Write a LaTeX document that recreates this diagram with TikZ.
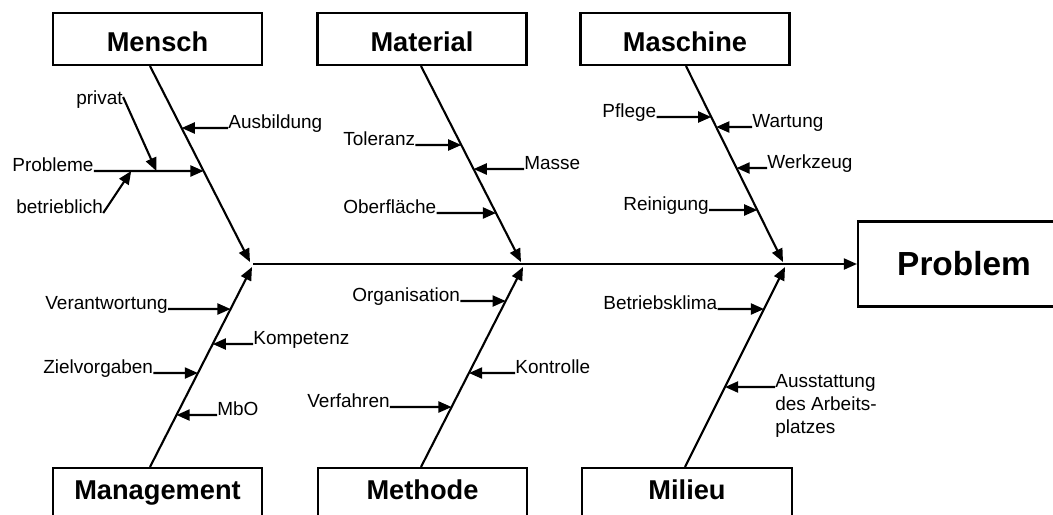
\documentclass[tikz,border=0pt]{standalone}
\usepackage{fontspec}
\setmainfont{Liberation Sans}
\usetikzlibrary{arrows.meta,calc}
\begin{document}
\begin{tikzpicture}[x=0.02cm,y=-0.02cm,
  box/.style={draw,line width=1.2pt,minimum width=4.18cm,minimum height=1.04cm,inner sep=0pt,
    font=\fontsize{15.5}{18}\selectfont\bfseries},
  topbox/.style={box,text height=14.5pt,text depth=0pt},
  botbox/.style={box,text height=11.5pt,text depth=4.7pt},
  lab/.style={inner sep=0pt,anchor=base west,font=\fontsize{10.8}{13}\selectfont},
  arr/.style={-{Triangle[length=7.5pt,width=6.3pt]},line width=1.2pt}]
\useasboundingbox (0,0) rectangle (1053,514);
\clip (0,0) rectangle (1053,514);
\fill[white] (0,0) rectangle (1053,514);

% boxes
\node[topbox] (mensch) at (157.5,39) {Mensch};
\node[topbox] (material) at (422,39) {Material};
\node[topbox] (maschine) at (685,39) {Maschine};
\node[botbox] (management) at (157.5,494) {Management};
\node[botbox] (methode) at (422.5,494) {Methode};
\node[botbox,minimum width=4.2cm] (milieu) at (687,494) {Milieu};
\node[draw,line width=1.2pt,minimum width=4.24cm,minimum height=1.70cm,inner sep=0pt,
  font=\fontsize{19}{22}\selectfont\bfseries,text height=13.6pt,text depth=0pt] (problem) at (964,264) {Problem};

% branch start / end points
\coordinate (ms) at ($(mensch.south)+(-7.5,0)$);
\coordinate (mts) at ($(material.south)+(-1,0)$);
\coordinate (mas) at ($(maschine.south)+(1,0)$);
\coordinate (mgs) at ($(management.north)+(-7.5,0)$);
\coordinate (mes) at ($(methode.north)+(-1.5,0)$);
\coordinate (mis) at ($(milieu.north)+(-2,0)$);
\coordinate (jA) at (250,262);
\coordinate (jB) at (252,267);
\coordinate (jC) at (521,262);
\coordinate (jD) at (523,267);
\coordinate (jE) at (783,262);
\coordinate (jF) at (785,267);
\coordinate (sp0) at (253,264);

% spine and bones
\draw[arr] (sp0) -- (problem.west);
\draw[arr] (ms) -- (jA);
\draw[arr] (mts) -- (jC);
\draw[arr] (mas) -- (jE);
\draw[arr] (mgs) -- (jB);
\draw[arr] (mes) -- (jD);
\draw[arr] (mis) -- (jF);

% Mensch
\node[lab] (ausbildung) at (228,128) {Ausbildung};
\draw[arr] (ausbildung.base west) -- (intersection of ms--jA and ausbildung.base west--ausbildung.base east);
\node[lab] (probleme) at (12,171) {Probleme};
\coordinate (tP) at (intersection of ms--jA and probleme.base west--probleme.base east);
\draw[arr] (probleme.base east) -- (tP);
\path (probleme.base east) -- (tP) coordinate[pos=0.57] (pa) coordinate[pos=0.34] (pb);
\node[lab] (privat) at (76,104) {privat};
\draw[arr] ($(privat.base east)+(0,-7)$) -- (pa);
\node[lab] (betr) at (16,213) {betrieblich};
\draw[arr] (betr.base east) -- (pb);

% Material
\node[lab] (toleranz) at (343,145) {Toleranz};
\draw[arr] (toleranz.base east) -- (intersection of mts--jC and toleranz.base west--toleranz.base east);
\node[lab] (masse) at (524,169) {Masse};
\draw[arr] (masse.base west) -- (intersection of mts--jC and masse.base west--masse.base east);
\node[lab] (oberflaeche) at (343,213) {Oberfläche};
\draw[arr] (oberflaeche.base east) -- (intersection of mts--jC and oberflaeche.base west--oberflaeche.base east);

% Maschine
\node[lab] (pflege) at (602,117) {Pflege};
\draw[arr] (pflege.base east) -- (intersection of mas--jE and pflege.base west--pflege.base east);
\node[lab] (wartung) at (752,127) {Wartung};
\draw[arr] (wartung.base west) -- (intersection of mas--jE and wartung.base west--wartung.base east);
\node[lab] (werkzeug) at (767,168) {Werkzeug};
\draw[arr] (werkzeug.base west) -- (intersection of mas--jE and werkzeug.base west--werkzeug.base east);
\node[lab] (reinigung) at (623,210) {Reinigung};
\draw[arr] (reinigung.base east) -- (intersection of mas--jE and reinigung.base west--reinigung.base east);

% Management
\node[lab] (verantwortung) at (45,309) {Verantwortung};
\draw[arr] (verantwortung.base east) -- (intersection of mgs--jB and verantwortung.base west--verantwortung.base east);
\node[lab] (kompetenz) at (253,344) {Kompetenz};
\draw[arr] (kompetenz.base west) -- (intersection of mgs--jB and kompetenz.base west--kompetenz.base east);
\node[lab] (zielvorgaben) at (43,373) {Zielvorgaben};
\draw[arr] (zielvorgaben.base east) -- (intersection of mgs--jB and zielvorgaben.base west--zielvorgaben.base east);
\node[lab] (mbo) at (217,415) {MbO};
\draw[arr] (mbo.base west) -- (intersection of mgs--jB and mbo.base west--mbo.base east);

% Methode
\node[lab] (organisation) at (352,301) {Organisation};
\draw[arr] (organisation.base east) -- (intersection of mes--jD and organisation.base west--organisation.base east);
\node[lab] (kontrolle) at (515,373) {Kontrolle};
\draw[arr] (kontrolle.base west) -- (intersection of mes--jD and kontrolle.base west--kontrolle.base east);
\node[lab] (verfahren) at (307,407) {Verfahren};
\draw[arr] (verfahren.base east) -- (intersection of mes--jD and verfahren.base west--verfahren.base east);

% Milieu
\node[lab] (betriebsklima) at (603,309) {Betriebsklima};
\draw[arr] (betriebsklima.base east) -- (intersection of mis--jF and betriebsklima.base west--betriebsklima.base east);
\node[lab,anchor=north west,align=left] (ausst) at (775,374) {Ausstattung\\des Arbeits-\\platzes};
\coordinate (aT) at ($(ausst.north west)+(0,13)$);
\coordinate (aT2) at ($(aT)+(10,0)$);
\draw[arr] (aT) -- (intersection of mis--jF and aT--aT2);
\end{tikzpicture}
\end{document}
